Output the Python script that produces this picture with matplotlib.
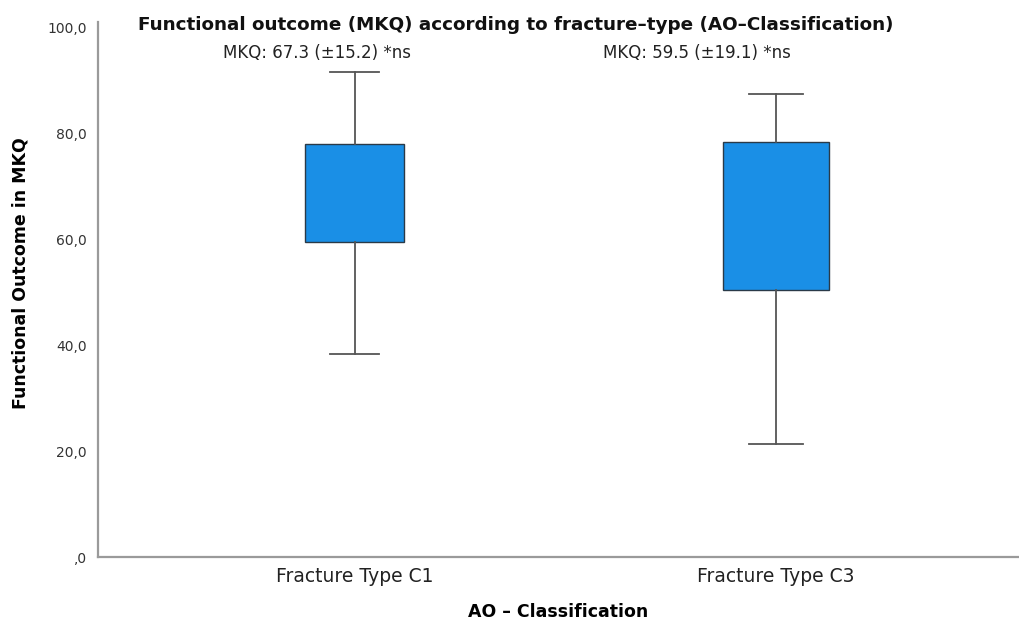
import matplotlib
matplotlib.use("Agg")
import matplotlib.pyplot as plt

# values (MKQ score)
groups = ["Fracture Type C1", "Fracture Type C3"]
whisker_low = [38.3, 21.3]
q1 = [59.4, 50.4]
q3 = [77.9, 78.3]
whisker_high = [91.5, 87.4]
medians = [68.0, 64.0]  # median line is not visible in the reference
notes = ["MKQ: 67.3 (\u00b115.2) *ns", "MKQ: 59.5 (\u00b119.1) *ns"]
yticks = [0, 20, 40, 60, 80, 100]

fig = plt.figure(figsize=(10.19, 6.24), dpi=100)
ax = fig.add_axes([0.096, 0.107, 0.904, 0.858])

stats = []
for i, g in enumerate(groups):
    stats.append({"label": g, "whislo": whisker_low[i], "q1": q1[i],
                  "med": medians[i], "q3": q3[i], "whishi": whisker_high[i],
                  "fliers": []})

positions = [1, 2]
ax.bxp(stats, positions=positions, widths=[0.235, 0.25], capwidths=[0.116, 0.126],
       patch_artist=True, showfliers=False,
       boxprops=dict(facecolor="#1a8fe6", edgecolor="#2a3a48", linewidth=1.0),
       whiskerprops=dict(color="#555555", linewidth=1.3),
       capprops=dict(color="#555555", linewidth=1.3),
       medianprops=dict(visible=False))

ax.set_xlim(0.3895, 2.577)
ax.set_ylim(0, 101)
ax.set_yticks(yticks)
ax.set_yticklabels([",0" if v == 0 else f"{v},0" for v in yticks],
                   fontsize=10, color="#333333")
ax.set_xticks(positions)
ax.set_xticklabels(groups, fontsize=13.5, color="#222222")
ax.tick_params(length=0)
ax.tick_params(axis="y", pad=8)
ax.tick_params(axis="x", pad=7)

for s in ["top", "right"]:
    ax.spines[s].set_visible(False)
for s in ["left", "bottom"]:
    ax.spines[s].set_color("#9a9a9a")
    ax.spines[s].set_linewidth(1.6)

ax.set_ylabel("Functional Outcome in MKQ", fontsize=12.5, fontweight="bold")
ax.yaxis.set_label_coords(-0.074, 0.53)
ax.set_xlabel("AO \u2013 Classification", fontsize=12.5, fontweight="bold", labelpad=12)

fig.text(516 / 1019, 1 - 25 / 624, "Functional outcome (MKQ) according to fracture\u2013type (AO\u2013Classification)",
         ha="center", va="center", fontsize=13.2, fontweight="bold", color="#111111")
for x, t in zip([317, 697], notes):
    fig.text(x / 1019, 1 - 53 / 624, t, ha="center", va="center", fontsize=12, color="#222222")

fig.savefig("out.png", dpi=100)
